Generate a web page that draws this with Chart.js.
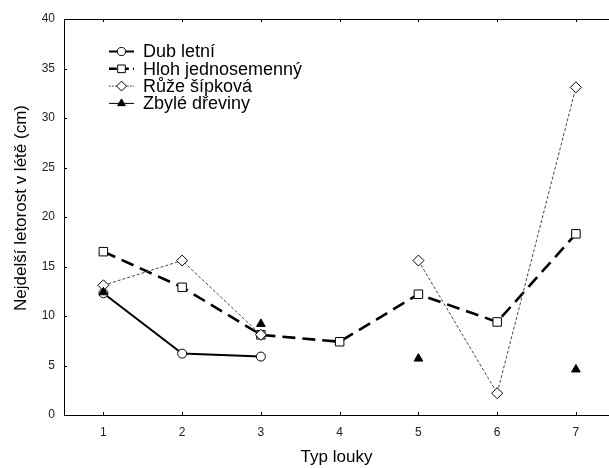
<!DOCTYPE html>
<html>
<head>
<meta charset="utf-8">
<script src="https://cdn.jsdelivr.net/npm/chart.js@4"></script>
<style>
  html, body { margin: 0; padding: 0; background: #fff; }
</style>
</head>
<body>
<canvas id="chart" width="609" height="468"></canvas>
<script>
// Typ louky (meadow type) on x, longest summer shoot in cm on y
const meadowTypes = [1, 2, 3, 4, 5, 6, 7];
const yTicks = [0, 5, 10, 15, 20, 25, 30, 35, 40];
const seriesNames = ['Dub letní', 'Hloh jednosemenný', 'Růže šípková', 'Zbylé dřeviny'];
const yTitle = 'Nejdelší letorost v létě (cm)';

const dubLetni         = [12.3, 6.2, 5.9, null, null, null, null];
const hlohJednosemenny = [16.5, 12.9, 8.1, 7.4, 12.2, 9.4, 18.3];
const ruzeSipkova      = [13.1, 15.6, 8.1, null, 15.6, 2.2, 33.1];
const zbyleDreviny     = [12.4, null, 9.2, null, 5.7, null, 4.6];

const pts = arr => meadowTypes.map((x, i) => ({ x, y: arr[i] }));

const FONT = '"Liberation Sans", Arial, sans-serif';
Chart.defaults.font.family = FONT;
Chart.defaults.color = '#222';

const datasets = [
    { label: seriesNames[0], data: pts(dubLetni), borderColor: '#000', borderWidth: 2,
      pointStyle: 'circle', pointRadius: 4.5, pointBackgroundColor: '#fff', pointBorderWidth: 1, order: 3 },
    { label: seriesNames[1], data: pts(hlohJednosemenny), borderColor: '#000', borderWidth: 2.6, borderDash: [13, 7],
      pointStyle: 'rect', pointRadius: 6, pointBackgroundColor: '#fff', pointBorderWidth: 1, order: 2 },
    { label: seriesNames[2], data: pts(ruzeSipkova), borderColor: '#444', borderWidth: 1, borderDash: [3, 2],
      pointStyle: 'rectRot', pointRadius: 5.5, pointBackgroundColor: '#fff', pointBorderColor: '#000', pointBorderWidth: 1, order: 1 },
    { label: seriesNames[3], data: pts(zbyleDreviny), borderColor: '#000', borderWidth: 1,
      pointStyle: 'triangle', pointRadius: 5, pointBackgroundColor: '#000', pointBorderWidth: 1, order: 0 }
];
datasets.forEach(d => { d.spanGaps = false; d.tension = 0; d.fill = false; d.pointBorderColor = d.pointBorderColor || '#000'; });

const noPad = s => { s.paddingLeft = 0; s.paddingRight = 0; s.paddingTop = 0; s.paddingBottom = 0; };

// top edge, inward tick marks, y title and the legend box in the upper left
const frameAndLegend = {
    id: 'frameAndLegend',
    afterDraw(chart) {
        const { ctx, chartArea: a, scales: { x, y } } = chart;
        ctx.save();
        ctx.strokeStyle = '#000';
        ctx.lineWidth = 1;
        ctx.beginPath();
        ctx.moveTo(a.left, a.top + 0.5);
        ctx.lineTo(a.right, a.top + 0.5);
        meadowTypes.forEach(v => {
            const px = Math.round(x.getPixelForValue(v)) + 0.5;
            ctx.moveTo(px, a.bottom); ctx.lineTo(px, a.bottom - 3);
            ctx.moveTo(px, a.top); ctx.lineTo(px, a.top + 3);
        });
        yTicks.forEach(v => {
            const py = Math.round(y.getPixelForValue(v)) + 0.5;
            ctx.moveTo(a.left, py); ctx.lineTo(a.left + 3, py);
        });
        ctx.stroke();

        // rotated y title, sits a little above the axis middle
        ctx.save();
        ctx.translate(21, 208);
        ctx.rotate(-Math.PI / 2);
        ctx.fillStyle = '#000';
        ctx.font = '17px ' + FONT;
        ctx.textAlign = 'center';
        ctx.textBaseline = 'middle';
        ctx.fillText(yTitle, 0, 0);
        ctx.restore();

        chart.data.datasets.forEach((d, i) => {
            const ry = 51.5 + i * 17.3;
            ctx.save();
            ctx.strokeStyle = d.borderColor;
            ctx.lineWidth = d.borderWidth;
            ctx.setLineDash(d.borderDash ? d.borderDash.map(n => n * 0.6) : []);
            ctx.beginPath();
            ctx.moveTo(109, ry); ctx.lineTo(134, ry);
            ctx.stroke();
            ctx.setLineDash([]);
            ctx.fillStyle = d.pointBackgroundColor;
            ctx.strokeStyle = d.pointBorderColor;
            ctx.lineWidth = 1;
            Chart.helpers.drawPoint(ctx, { pointStyle: d.pointStyle, radius: d.pointRadius * 0.9, rotation: 0, borderWidth: 1 }, 121.5, ry);
            ctx.restore();
            ctx.fillStyle = '#000';
            ctx.font = '18px ' + FONT;
            ctx.textBaseline = 'middle';
            ctx.fillText(d.label, 143, ry + 1);
        });
        ctx.restore();
    }
};

new Chart(document.getElementById('chart'), {
    type: 'line',
    data: { datasets },
    options: {
        responsive: false,
        animation: false,
        devicePixelRatio: 1,
        layout: { autoPadding: false, padding: { top: 19, right: 0, left: 0, bottom: 0 } },
        plugins: { legend: { display: false }, tooltip: { enabled: false } },
        scales: {
            x: {
                type: 'linear', min: 0.5, max: 7.42,
                afterBuildTicks: s => { s.ticks = meadowTypes.map(v => ({ value: v })); },
                afterFit: s => { s.height = 53; noPad(s); },
                grid: { display: false, drawTicks: false },
                border: { display: true, color: '#000', width: 1 },
                ticks: { padding: 10, font: { size: 12 }, color: '#222' },
                title: { display: true, text: 'Typ louky', font: { size: 17 }, color: '#000', padding: { top: 0, bottom: 0 } }
            },
            y: {
                min: 0, max: 40,
                afterBuildTicks: s => { s.ticks = yTicks.map(v => ({ value: v })); },
                afterFit: s => { s.width = 64; noPad(s); },
                grid: { display: false, drawTicks: false },
                border: { display: true, color: '#000', width: 1 },
                ticks: { padding: 9, font: { size: 12 }, color: '#222' }
            }
        }
    },
    plugins: [frameAndLegend]
});
</script>
</body>
</html>
